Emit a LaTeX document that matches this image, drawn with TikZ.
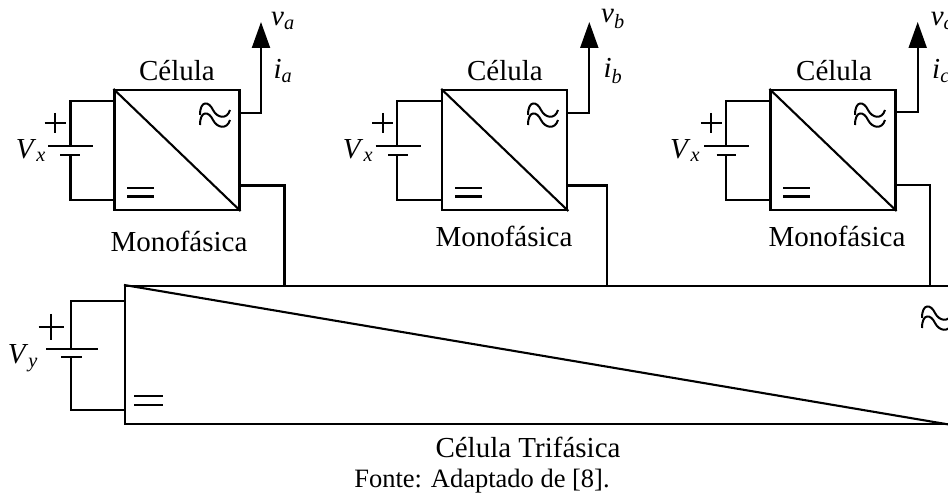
\documentclass[tikz,border=0pt]{standalone}
\usepackage{fontspec}
\setmainfont{Liberation Serif}
\usetikzlibrary{arrows.meta}

\tikzset{
  wire/.style={black, line width=2.1pt},
  outwire/.style={wire, -{Triangle[width=18pt,length=26pt]}},
  cell/.style={draw=black, line width=2.1pt, inner sep=0pt, minimum width=125pt, minimum height=120pt},
  bigcell/.style={draw=black, line width=2.1pt, inner sep=0pt, minimum width=826pt, minimum height=138pt},
  lbl/.style={inner sep=0pt, font=\fontsize{29}{30}\selectfont},
  acsign/.pic={
    \draw[black, line width=2pt] (-15,-2) .. controls (-15,-17) and (-6,-16) .. (-2,-7) .. controls (2,1) and (12,3) .. (15,-7);
    \draw[black, line width=2pt] (-15,8) .. controls (-15,-7) and (-6,-6) .. (-2,3) .. controls (2,11) and (12,13) .. (15,3);
  }
}

\begin{document}
\begin{tikzpicture}[x=1pt,y=-1pt]
\clip (0,0) rectangle (948,494);

% cell a
\node[cell] (cella) at (177,150) {};
\draw[wire] (cella.north west) -- (cella.south east);
\coordinate (batap) at (70.5,145.7);
\coordinate (batan) at (70.5,154.7);
\coordinate (tipa) at (261,22);
\coordinate (busa) at (284.5,286);
\draw[wire] (batap) |- ([yshift=-12.5pt]cella.north west);
\draw[wire] (batan) |- ([yshift=11pt]cella.south west);
\draw[outwire] ([yshift=-24pt]cella.north east) -| (tipa);
\draw[wire] ([yshift=25.5pt]cella.south east) -| (busa);
\draw[wire] (48,145.7) -- (93,145.7);
\draw[wire] (60,154.7) -- (80,154.7);
\draw[wire] (44.5,123) -- (65.5,123);
\draw[wire] (55,113) -- (55,133);
\draw[wire] (127,187.7) -- (154,187.7);
\draw[wire] (127,196.5) -- (154,196.5);
\pic at (215,117) {acsign};
\node[lbl] (vxa) at (31,150.5) {\textit{V}\textsubscript{\textit{x}}};
\node[lbl] (va) at (283,21) {\textit{v}\textsubscript{\textit{a}}};
\node[lbl] (ia) at (283,71) {\textit{i}\textsubscript{\textit{a}}};
\node[lbl] (topa) at (177,71) {Célula};
\node[lbl] (bota) at (179,241) {Monofásica};

% cell b
\node[cell] (cellb) at (504.8,150) {};
\draw[wire] (cellb.north west) -- (cellb.south east);
\coordinate (batbp) at (397.3,145.7);
\coordinate (batbn) at (397.3,154.7);
\coordinate (tipb) at (589.3,22);
\coordinate (busb) at (606.7,286);
\draw[wire] (batbp) |- ([yshift=-12.5pt]cellb.north west);
\draw[wire] (batbn) |- ([yshift=11pt]cellb.south west);
\draw[outwire] ([yshift=-24pt]cellb.north east) -| (tipb);
\draw[wire] ([yshift=25.5pt]cellb.south east) -| (busb);
\draw[wire] (375.7,145.7) -- (421,145.7);
\draw[wire] (388,154.7) -- (408,154.7);
\draw[wire] (372.2,123) -- (393.2,123);
\draw[wire] (382.7,113) -- (382.7,133);
\draw[wire] (455,187.7) -- (482,187.7);
\draw[wire] (455,196.5) -- (482,196.5);
\pic at (543,117) {acsign};
\node[lbl] (vxb) at (358,150.5) {\textit{V}\textsubscript{\textit{x}}};
\node[lbl] (vb) at (613,19) {\textit{v}\textsubscript{\textit{b}}};
\node[lbl] (ib) at (613,71) {\textit{i}\textsubscript{\textit{b}}};
\node[lbl] (topb) at (505,71) {Célula};
\node[lbl] (botb) at (504,236) {Monofásica};

% cell c
\node[cell] (cellc) at (833,150) {};
\draw[wire] (cellc.north west) -- (cellc.south east);
\coordinate (batcp) at (725.7,145.7);
\coordinate (batcn) at (725.7,154.7);
\coordinate (tipc) at (917.7,22);
\coordinate (busc) at (930,286);
\draw[wire] (batcp) |- ([yshift=-12.5pt]cellc.north west);
\draw[wire] (batcn) |- ([yshift=11pt]cellc.south west);
\draw[outwire] ([yshift=-23.5pt]cellc.north east) -| (tipc);
\draw[wire] ([yshift=26pt]cellc.south east) -| (busc);
\draw[wire] (704,145.7) -- (749.3,145.7);
\draw[wire] (716.7,154.7) -- (736,154.7);
\draw[wire] (700.8,123) -- (721.8,123);
\draw[wire] (711.3,113) -- (711.3,133);
\draw[wire] (783,187.7) -- (810,187.7);
\draw[wire] (783,196.5) -- (810,196.5);
\pic at (870,117) {acsign};
\node[lbl] (vxc) at (685,150.5) {\textit{V}\textsubscript{\textit{x}}};
\node[lbl] (vc) at (942,21) {\textit{v}\textsubscript{\textit{c}}};
\node[lbl] (ic) at (941,71) {\textit{i}\textsubscript{\textit{c}}};
\node[lbl] (topc) at (834,71) {Célula};
\node[lbl] (botc) at (837,236) {Monofásica};

% three-phase cell
\node[bigcell] (celltri) at (538,355) {};
\draw[wire] (celltri.north west) -- (celltri.south east);
\coordinate (batyp) at (71,349.3);
\coordinate (batyn) at (71,356.7);
\draw[wire] (batyp) |- ([yshift=-16pt]celltri.north west);
\draw[wire] (batyn) |- ([yshift=15pt]celltri.south west);
\draw[wire] (46,349.3) -- (98,349.3);
\draw[wire] (61,356.7) -- (81.7,356.7);
\draw[wire] (38.5,327) -- (63.5,327);
\draw[wire] (51,314) -- (51,340);
\draw[wire] (134,395.7) -- (162.7,395.7);
\draw[wire] (134,404.7) -- (162.7,404.7);
\pic at (937,320) {acsign};
\node[lbl] (vy) at (23,358) {\textit{V}\textsubscript{\textit{y}}};
\node[lbl] (tri) at (528,447) {Célula Trifásica};
\node[lbl, font=\fontsize{26.5}{28}\selectfont] (fonte) at (482,481) {Fonte: Adaptado de [8].};
\end{tikzpicture}
\end{document}
